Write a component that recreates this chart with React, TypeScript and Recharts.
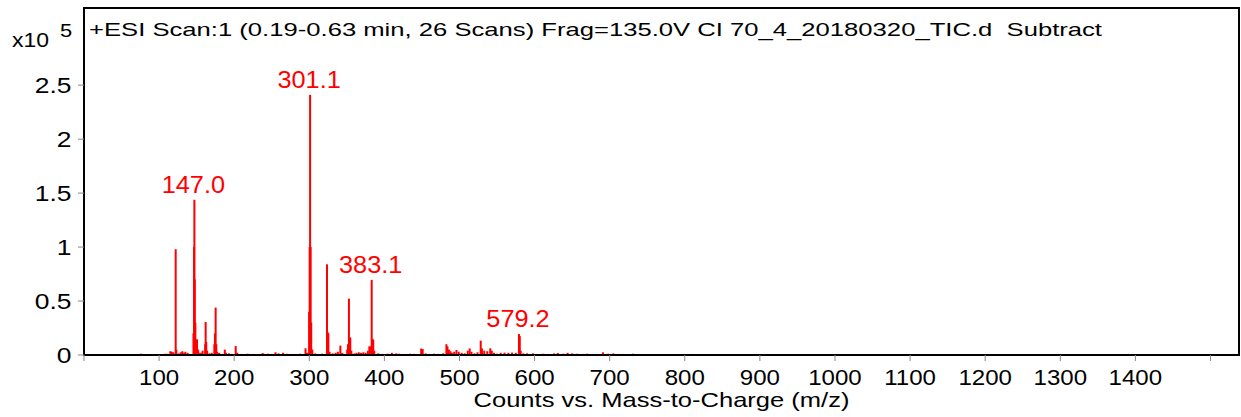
import React from 'react';
import { BarChart, Bar, XAxis, YAxis, ReferenceArea, LabelList } from 'recharts';

// ---- data (m/z, counts in units of 1e5) ----
const mzValues = [
  76, 103, 106, 109, 112, 115, 117, 119, 122.1, 123, 126, 129, 131, 133, 135, 138,
  145.8, 146.6, 147.0, 147.5, 148.3, 149.5, 150.5, 152, 153, 156, 158,
  161.4, 162, 162.8, 164, 167, 170, 173.6, 174.4, 175.3, 176.2, 177, 180,
  187.5, 189, 193, 196, 202, 204, 210, 218, 225, 238, 245, 250, 255, 259, 265, 270, 276, 282, 288,
  295, 297, 299.8, 300.5, 301.1, 301.8, 302.6, 304, 308, 312, 317,
  323.6, 324.6, 325.4, 327, 331, 335, 338, 341.4, 344,
  350.5, 351.5, 352.8, 353.8, 354.6, 356, 360, 363, 366, 369, 372, 375, 378, 380, 381.5,
  383.1, 384.2, 385.2, 386.5, 392, 398, 404, 410, 416, 420, 428, 434, 440,
  449, 451, 455, 460, 466, 472, 478, 482.6, 484, 486, 488, 490, 493, 496, 499, 503, 507,
  511, 513.6, 516, 520, 524, 528.3, 530, 533, 537, 541, 543, 546, 550, 555, 560, 565, 570, 575,
  579.2, 580.3, 581.5, 585, 590, 598, 606, 612, 618, 626, 631, 638, 644, 650, 657, 664, 670, 676,
  684, 691, 698, 705, 712, 718, 725, 731, 810,
];
const countsE5 = [
  0.012, 0.008, 0.01, 0.012, 0.01, 0.035, 0.03, 0.025, 0.98, 0.05, 0.015, 0.025, 0.035, 0.02, 0.03, 0.02,
  0.2, 1.0, 1.438, 0.7, 0.3, 0.14, 0.145, 0.05, 0.02, 0.02, 0.04,
  0.1, 0.306, 0.12, 0.04, 0.015, 0.02, 0.1, 0.2, 0.439, 0.1, 0.03, 0.02,
  0.05, 0.02, 0.015, 0.01, 0.083, 0.02, 0.01, 0.012, 0.01, 0.018, 0.012, 0.01, 0.025, 0.015, 0.02, 0.012, 0.01, 0.01, 0.012,
  0.062, 0.02, 0.4, 1.0, 2.41, 1.0, 0.3, 0.05, 0.015, 0.01, 0.012,
  0.84, 0.21, 0.2, 0.03, 0.015, 0.02, 0.03, 0.087, 0.02,
  0.05, 0.1, 0.522, 0.164, 0.16, 0.04, 0.015, 0.02, 0.025, 0.02, 0.025, 0.02, 0.04, 0.08, 0.08,
  0.696, 0.15, 0.14, 0.04, 0.015, 0.01, 0.012, 0.02, 0.015, 0.012, 0.01, 0.012, 0.01,
  0.06, 0.055, 0.015, 0.01, 0.012, 0.01, 0.015, 0.1, 0.08, 0.05, 0.035, 0.02, 0.03, 0.046, 0.03, 0.02, 0.015,
  0.04, 0.06, 0.03, 0.015, 0.025, 0.133, 0.06, 0.04, 0.035, 0.062, 0.04, 0.02, 0.012, 0.02, 0.022, 0.02, 0.022, 0.02,
  0.195, 0.175, 0.04, 0.015, 0.015, 0.015, 0.008, 0.012, 0.01, 0.015, 0.018, 0.012, 0.02, 0.015, 0.012, 0.01, 0.012, 0.008,
  0.01, 0.025, 0.012, 0.015, 0.01, 0.01, 0.008, 0.012, 0.01,
];
const labeledPeaks = [147.0, 301.1, 383.1, 579.2];

const xTicks = [0, 100, 200, 300, 400, 500, 600, 700, 800, 900, 1000, 1100, 1200, 1300, 1400, 1500];
const yTicks = [0, 0.5, 1, 1.5, 2, 2.5];
const X_MAX = 1538;
const Y_MAX = 3.215;

const titleText = '+ESI Scan:1 (0.19-0.63 min, 26 Scans) Frag=135.0V CI 70_4_20180320_TIC.d  Subtract';
const xAxisTitle = 'Counts vs. Mass-to-Charge (m/z)';
const yScaleBase = 'x10';
const yScaleExp = '5';

const data = mzValues.map((m, i) => ({
  mz: m,
  counts: countsE5[i],
  label: labeledPeaks.includes(m) ? m.toFixed(1) : undefined,
}));

const FONT = '"Liberation Sans", Arial, sans-serif';
const RED = '#ff0000';

function SText({ x, y, anchor = 'start', size, fill = '#000', k = 1.15, children }: any) {
  return (
    <text
      transform={`translate(${x},${y}) scale(${k},1)`}
      x={0}
      y={0}
      textAnchor={anchor}
      fontFamily={FONT}
      fontSize={size}
      fill={fill}
    >
      {children}
    </text>
  );
}

const XTick = (props: any) => {
  const { x, y, payload } = props;
  if (payload.value === 0 || payload.value === 1500) return null;
  return <SText x={x} y={y + 22} anchor="middle" size={21.5} k={1.12}>{String(payload.value)}</SText>;
};

const YTick = (props: any) => {
  const { x, y, payload } = props;
  return <SText x={x - 4.5} y={y + 7.5} anchor="end" size={22} k={1.2}>{String(payload.value)}</SText>;
};

const PeakLabel = (props: any) => {
  const { x, y, width, value } = props;
  if (!value) return null;
  return (
    <SText x={Number(x) + Number(width) / 2 - 1} y={Number(y) - 7} anchor="middle" size={23} fill={RED} k={1.1}>
      {value}
    </SText>
  );
};

const Stick = (props: any) => {
  const { x, y, width, height } = props;
  if (!height || height <= 0) return null;
  const cx = Number(x) + Number(width) / 2;
  return <rect x={cx - 1} y={y} width={2} height={height} fill={RED} />;
};

const XLabel = (props: any) => {
  const vb = props.viewBox || {};
  return (
    <text
      x={vb.x + vb.width / 2}
      y={vb.y + 52}
      textAnchor="middle"
      fontFamily={FONT}
      fontSize={21}
      fill="#000"
      textLength={376}
      lengthAdjust="spacingAndGlyphs"
    >
      {xAxisTitle}
    </text>
  );
};

const YLabel = (props: any) => {
  const vb = props.viewBox || {};
  return (
    <g>
      <SText x={vb.x + 12} y={vb.y + 39} size={20} k={1.15}>{yScaleBase}</SText>
      <SText x={vb.x + 60} y={vb.y + 29} size={19} k={1.15}>{yScaleExp}</SText>
    </g>
  );
};

const TitleLabel = (props: any) => {
  const vb = props.viewBox || {};
  return (
    <text
      x={vb.x + 5}
      y={vb.y + 28}
      fontFamily={FONT}
      fontSize={18.6}
      fill="#000"
      textLength={1013}
      lengthAdjust="spacingAndGlyphs"
      style={{ whiteSpace: 'pre' }}
    >
      {titleText}
    </text>
  );
};

export default function App() {
  return (
    <div style={{ width: 1241, height: 417, background: '#fff' }}>
      <style>{`body{margin:0;background:#fff}`}</style>
      <BarChart
        width={1241}
        height={417}
        data={data}
        margin={{ top: 8, right: 2, left: 0, bottom: 0 }}
        barCategoryGap={0}
        barGap={0}
      >
        <XAxis
          type="number"
          dataKey="mz"
          domain={[0, X_MAX]}
          ticks={xTicks}
          allowDataOverflow
          height={62}
          axisLine={{ stroke: '#000', strokeWidth: 2 }}
          tickLine={{ stroke: '#888', strokeWidth: 1 }}
          tickSize={6}
          tick={<XTick />}
          interval={0}
          label={<XLabel />}
        />
        <YAxis
          type="number"
          domain={[0, Y_MAX]}
          ticks={yTicks}
          allowDataOverflow
          width={84}
          axisLine={{ stroke: '#000', strokeWidth: 2 }}
          tickLine={{ stroke: '#888', strokeWidth: 1 }}
          tickSize={6}
          tick={<YTick />}
          interval={0}
          label={<YLabel />}
        />
        <ReferenceArea
          x1={0}
          x2={X_MAX}
          y1={0}
          y2={Y_MAX}
          fill="none"
          fillOpacity={0}
          stroke="#000"
          strokeWidth={2}
          ifOverflow="visible"
          label={<TitleLabel />}
        />
        <Bar dataKey="counts" fill={RED} barSize={2} shape={<Stick />} isAnimationActive={false}>
          <LabelList dataKey="label" content={<PeakLabel />} />
        </Bar>
      </BarChart>
    </div>
  );
}
